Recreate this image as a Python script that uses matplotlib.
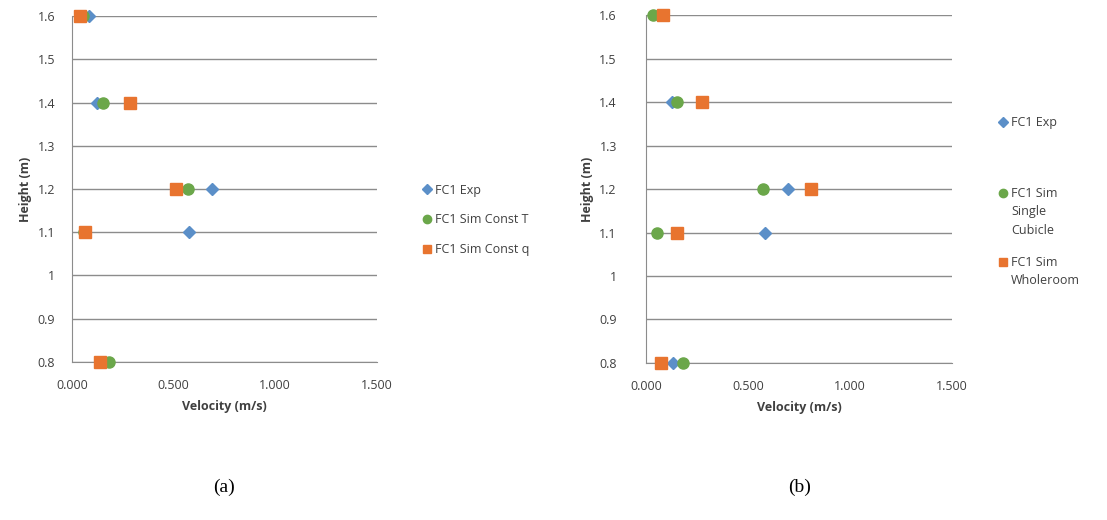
import matplotlib.pyplot as plt
from matplotlib.text import Annotation
from matplotlib.ticker import FuncFormatter

# Heights (m) shared by both panels
heights = [1.6, 1.4, 1.2, 1.1, 0.8]

# Panel (a)
a_exp = [0.085, 0.125, 0.69, 0.575, 0.14]
a_const_t = [0.055, 0.155, 0.57, 0.06, 0.18]
a_const_q = [0.04, 0.285, 0.51, 0.064, 0.14]
a_labels = ["FC1 Exp", "FC1 Sim Const T", "FC1 Sim Const q"]

# Panel (b)
b_exp = [0.085, 0.126, 0.696, 0.585, 0.134]
b_single = [0.035, 0.15, 0.575, 0.054, 0.18]
b_whole = [0.084, 0.274, 0.81, 0.15, 0.074]
# legend label: first line next to the marker, rest wrapped below it
b_labels = [("FC1 Exp", ""), ("FC1 Sim", "Single\nCubicle"),
            ("FC1 Sim", "Wholeroom")]

x_ticks = [0.0, 0.5, 1.0, 1.5]
y_ticks = [0.8, 0.9, 1.0, 1.1, 1.2, 1.3, 1.4, 1.5, 1.6]

BLUE = "#5B8FC8"
GREEN = "#6BA74A"
ORANGE = "#E8742F"
GRID = "#8c8c8c"
TEXT = "#404040"
FS = 9

plt.rcParams["font.family"] = ["Open Sans", "DejaVu Sans"]


def y_fmt(v, _):
    return "1" if abs(v - 1) < 1e-9 else f"{v:.1f}"


def draw_panel(ax, series, ypad):
    markers = ["D", "o", "s"]
    colors = [BLUE, GREEN, ORANGE]
    sizes = [6.5, 8, 8]
    handles = []
    for vals, m, c, s in zip(series, markers, colors, sizes):
        h, = ax.plot(vals, heights, linestyle="none", marker=m, color=c,
                     markersize=s, zorder=3, clip_on=False)
        handles.append(h)
    ax.set_xlim(0, 1.5)
    ax.set_ylim(0.8, 1.6)
    ax.set_xticks(x_ticks)
    ax.set_yticks(y_ticks)
    ax.xaxis.set_major_formatter(FuncFormatter(lambda v, _: f"{v:.3f}"))
    ax.yaxis.set_major_formatter(FuncFormatter(y_fmt))
    ax.grid(axis="y", color=GRID, linewidth=1)
    ax.set_axisbelow(True)
    for side in ["top", "right"]:
        ax.spines[side].set_visible(False)
    ax.spines["left"].set_color(GRID)
    ax.spines["bottom"].set_color(GRID)
    ax.tick_params(length=0, labelsize=FS, colors=TEXT)
    ax.tick_params(axis="x", pad=12)
    ax.tick_params(axis="y", pad=ypad)
    ax.set_xlabel("Velocity (m/s)", fontsize=FS, fontweight="bold",
                  color=TEXT, labelpad=6)
    ax.set_ylabel("Height (m)", fontsize=FS, fontweight="bold",
                  color=TEXT, labelpad=4)
    return handles


def add_legend(fig, handles, labels, anchor, spacing=1.0):
    leg = fig.legend(handles, labels, loc="center left", bbox_to_anchor=anchor,
                     frameon=False, fontsize=FS, handlelength=0.8,
                     handletextpad=0.25, labelspacing=spacing,
                     borderpad=0, borderaxespad=0, labelcolor=TEXT,
                     markerscale=0.75)
    return leg


fig = plt.figure(figsize=(11.07, 5.2), dpi=100)
ax1 = fig.add_axes([0.065, 0.304, 0.2755, 0.665])
ax2 = fig.add_axes([0.5836, 0.302, 0.2764, 0.669])

h1 = draw_panel(ax1, [a_exp, a_const_t, a_const_q], 12)
h2 = draw_panel(ax2, [b_exp, b_single, b_whole], 21)

add_legend(fig, h1, a_labels, (0.381, 0.577), 1.35)

for h, (first, rest), y in zip(h2, b_labels, [0.7635, 0.627, 0.495]):
    leg = add_legend(fig, [h], [first], (0.9015, y))
    if rest:
        # wrapped remainder of the label, hung under the first line
        ann = Annotation(rest, xy=(0, 0), xycoords=leg.get_texts()[0],
                         xytext=(0, -3.5), textcoords="offset points",
                         ha="left", va="top", fontsize=FS, color=TEXT,
                         linespacing=1.6, zorder=10)
        fig.add_artist(ann)

fig.text(0.2026, 0.063, "(a)", ha="center", va="center",
         family="Liberation Serif", fontsize=14)
fig.text(0.7226, 0.063, "(b)", ha="center", va="center",
         family="Liberation Serif", fontsize=14)

fig.savefig("out.png", dpi=100)
